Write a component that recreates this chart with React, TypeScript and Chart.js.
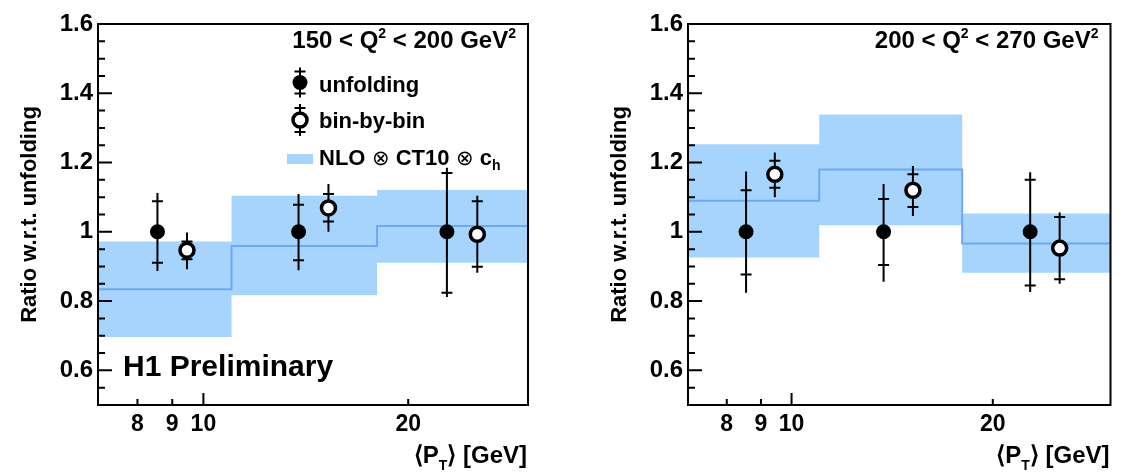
import React, { useEffect, useRef } from 'react';
import { Chart, registerables } from 'chart.js';

Chart.register(...registerables);

const FONT = '"Liberation Sans", Arial, Helvetica, sans-serif';
const BAND_COLOR = '#a6d4fd';
const LINE_COLOR = '#6ea7f6';

// ---- axes ----
const xRange = [7, 30];
const yRange = [0.5, 1.6];
const xTicks = [8, 9, 10, 20];
const yMajorTicks = [0.6, 0.8, 1.0, 1.2, 1.4, 1.6];
const yMinorStep = 0.05;

// ---- NLO ⊗ CT10 ⊗ c_h prediction bins ----
const binEdges = [7, 11, 18, 30];

// ---- Panel 1: 150 < Q^2 < 200 GeV^2 ----
const p1NloCentral = [0.834, 0.959, 1.017];
const p1NloLow = [0.696, 0.817, 0.911];
const p1NloHigh = [0.972, 1.104, 1.121];
const p1UnfX = [8.56, 13.8, 22.8];
const p1UnfY = [1.0, 1.0, 1.0];
const p1UnfStatLow = [0.911, 0.918, 0.824];
const p1UnfStatHigh = [1.088, 1.078, 1.17];
const p1UnfTotLow = [0.887, 0.889, 0.812];
const p1UnfTotHigh = [1.112, 1.109, 1.185];
const p1BbbX = [9.46, 15.27, 25.27];
const p1BbbY = [0.947, 1.069, 0.993];
const p1BbbStatLow = [0.921, 1.03, 0.899];
const p1BbbStatHigh = [0.972, 1.109, 1.088];
const p1BbbTotLow = [0.892, 1.0, 0.882];
const p1BbbTotHigh = [0.998, 1.138, 1.104];

// ---- Panel 2: 200 < Q^2 < 270 GeV^2 ----
const p2NloCentral = [1.09, 1.18, 0.966];
const p2NloLow = [0.926, 1.019, 0.882];
const p2NloHigh = [1.253, 1.339, 1.053];
const p2UnfX = [8.55, 13.73, 22.75];
const p2UnfY = [1.0, 1.0, 1.0];
const p2UnfStatLow = [0.877, 0.904, 0.845];
const p2UnfStatHigh = [1.12, 1.095, 1.15];
const p2UnfTotLow = [0.824, 0.856, 0.826];
const p2UnfTotHigh = [1.174, 1.138, 1.172];
const p2BbbX = [9.44, 15.19, 25.18];
const p2BbbY = [1.166, 1.12, 0.953];
const p2BbbStatLow = [1.127, 1.072, 0.863];
const p2BbbStatHigh = [1.205, 1.166, 1.043];
const p2BbbTotLow = [1.1, 1.046, 0.85];
const p2BbbTotHigh = [1.229, 1.19, 1.056];

const q2Ranges = [
  ['150', '200'],
  ['200', '270'],
];

type Panel = {
  q2: string[];
  nloCentral: number[];
  nloLow: number[];
  nloHigh: number[];
  unfX: number[]; unfY: number[];
  unfStatLow: number[]; unfStatHigh: number[]; unfTotLow: number[]; unfTotHigh: number[];
  bbbX: number[]; bbbY: number[];
  bbbStatLow: number[]; bbbStatHigh: number[]; bbbTotLow: number[]; bbbTotHigh: number[];
  legend: boolean;
  prelim: boolean;
};

const panel1: Panel = {
  q2: q2Ranges[0],
  nloCentral: p1NloCentral, nloLow: p1NloLow, nloHigh: p1NloHigh,
  unfX: p1UnfX, unfY: p1UnfY,
  unfStatLow: p1UnfStatLow, unfStatHigh: p1UnfStatHigh, unfTotLow: p1UnfTotLow, unfTotHigh: p1UnfTotHigh,
  bbbX: p1BbbX, bbbY: p1BbbY,
  bbbStatLow: p1BbbStatLow, bbbStatHigh: p1BbbStatHigh, bbbTotLow: p1BbbTotLow, bbbTotHigh: p1BbbTotHigh,
  legend: true,
  prelim: true,
};

const panel2: Panel = {
  q2: q2Ranges[1],
  nloCentral: p2NloCentral, nloLow: p2NloLow, nloHigh: p2NloHigh,
  unfX: p2UnfX, unfY: p2UnfY,
  unfStatLow: p2UnfStatLow, unfStatHigh: p2UnfStatHigh, unfTotLow: p2UnfTotLow, unfTotHigh: p2UnfTotHigh,
  bbbX: p2BbbX, bbbY: p2BbbY,
  bbbStatLow: p2BbbStatLow, bbbStatHigh: p2BbbStatHigh, bbbTotLow: p2BbbTotLow, bbbTotHigh: p2BbbTotHigh,
  legend: false,
  prelim: false,
};

function stepPoints(vals: number[]) {
  return binEdges.map((x, i) => ({ x, y: vals[Math.min(i, vals.length - 1)] }));
}

type Seg = { t: string; font: string; dy?: number };

function segsWidth(ctx: CanvasRenderingContext2D, segs: Seg[]) {
  let w = 0;
  for (const s of segs) {
    ctx.font = s.font;
    w += ctx.measureText(s.t).width;
  }
  return w;
}

function drawSegs(ctx: CanvasRenderingContext2D, segs: Seg[], x: number, y: number) {
  let cx = x;
  for (const s of segs) {
    ctx.font = s.font;
    ctx.fillText(s.t, cx, y + (s.dy || 0));
    cx += ctx.measureText(s.t).width;
  }
}

const B = (px: number) => `bold ${px}px ${FONT}`;
const N = (px: number) => `${px}px ${FONT}`;

function drawErrorMarker(ctx: CanvasRenderingContext2D, x: number, yTop: number, yBot: number, sTop: number, sBot: number) {
  ctx.beginPath();
  ctx.moveTo(x, yTop);
  ctx.lineTo(x, yBot);
  ctx.moveTo(x - 5.5, sTop);
  ctx.lineTo(x + 5.5, sTop);
  ctx.moveTo(x - 5.5, sBot);
  ctx.lineTo(x + 5.5, sBot);
  ctx.stroke();
}

const errorBarPlugin = {
  id: 'errorBars',
  beforeDatasetDraw(chart: any, args: any) {
    const ds: any = chart.data.datasets[args.index];
    if (!ds.errors) return;
    const { ctx } = chart;
    const x = chart.scales.x;
    const y = chart.scales.y;
    const e = ds.errors;
    ctx.save();
    ctx.strokeStyle = '#000';
    ctx.lineWidth = 2;
    ds.data.forEach((pt: any, i: number) => {
      const px = x.getPixelForValue(pt.x);
      drawErrorMarker(
        ctx,
        px,
        y.getPixelForValue(e.totHigh[i]),
        y.getPixelForValue(e.totLow[i]),
        y.getPixelForValue(e.statHigh[i]),
        y.getPixelForValue(e.statLow[i])
      );
    });
    ctx.restore();
  },
};

const decorPlugin = {
  id: 'decor',
  afterDraw(chart: any, _args: any, opts: any) {
    const { ctx, chartArea } = chart;
    const { left, right, top, bottom } = chartArea;
    const xs = chart.scales.x;
    const ys = chart.scales.y;
    ctx.save();
    ctx.strokeStyle = '#000';
    ctx.fillStyle = '#000';

    // y ticks (inside)
    ctx.lineWidth = 2;
    ctx.beginPath();
    for (const t of ys.ticks) {
      const py = ys.getPixelForValue(t.value);
      const major = yMajorTicks.some((m) => Math.abs(m - t.value) < 1e-6);
      ctx.moveTo(left, py);
      ctx.lineTo(left + (major ? 14 : 7), py);
    }
    // x ticks (inside)
    for (const v of xTicks) {
      const px = xs.getPixelForValue(v);
      const major = Math.abs(Math.log10(v) - Math.round(Math.log10(v))) < 1e-9;
      ctx.moveTo(px, bottom);
      ctx.lineTo(px, bottom - (major ? 12 : 6));
    }
    ctx.stroke();

    // frame
    ctx.lineWidth = 2;
    ctx.strokeRect(left, top, right - left, bottom - top);

    ctx.textAlign = 'left';
    ctx.textBaseline = 'alphabetic';

    // Q2 header
    const q2 = opts.q2 as string[];
    const header: Seg[] = [
      { t: `${q2[0]} < Q`, font: B(24) },
      { t: '2', font: B(14), dy: -10 },
      { t: ` < ${q2[1]} GeV`, font: B(24) },
      { t: '2', font: B(14), dy: -10 },
    ];
    const hw = segsWidth(ctx, header);
    drawSegs(ctx, header, right - 12 - hw, top + 24);

    if (opts.legend) {
      const mx = left + 202;
      const tx = left + 221;
      // unfolding
      ctx.lineWidth = 2;
      const y1 = top + 58.5;
      drawErrorMarker(ctx, mx, y1 - 15, y1 + 15, y1 - 11, y1 + 11);
      ctx.beginPath();
      ctx.arc(mx, y1, 7.5, 0, Math.PI * 2);
      ctx.fill();
      ctx.font = B(22);
      ctx.fillText('unfolding', tx, top + 67.7);
      // bin-by-bin
      const y2 = top + 96;
      drawErrorMarker(ctx, mx, y2 - 16, y2 + 16, y2 - 12, y2 + 12);
      ctx.beginPath();
      ctx.arc(mx, y2, 7, 0, Math.PI * 2);
      ctx.fillStyle = '#fff';
      ctx.fill();
      ctx.lineWidth = 3.5;
      ctx.stroke();
      ctx.fillStyle = '#000';
      ctx.font = B(22);
      ctx.fillText('bin-by-bin', tx, top + 104.3);
      // band
      ctx.fillStyle = BAND_COLOR;
      ctx.fillRect(left + 189, top + 130, 26, 10);
      ctx.fillStyle = '#000';
      const nlo: Seg[] = [
        { t: 'NLO ', font: B(22) },
        { t: '⊗', font: N(21) },
        { t: ' CT10 ', font: B(22) },
        { t: '⊗', font: N(21) },
        { t: ' c', font: B(22) },
        { t: 'h', font: B(14), dy: 5 },
      ];
      drawSegs(ctx, nlo, tx, top + 141);
    }

    if (opts.prelim) {
      ctx.font = B(30);
      ctx.fillText('H1 Preliminary', left + 25, bottom - 29);
    }

    // x title
    const xt: Seg[] = [
      { t: '⟨P', font: B(24) },
      { t: 'T', font: B(14), dy: 7 },
      { t: '⟩ [GeV]', font: B(24) },
    ];
    const xw = segsWidth(ctx, xt);
    drawSegs(ctx, xt, right - 1 - xw, bottom + 58);

    ctx.restore();
  },
};

function buildConfig(panel: Panel, padRight: number): any {
  const datasets: any[] = [
    {
      data: stepPoints(panel.nloLow),
      borderColor: 'rgba(0,0,0,0)',
      borderWidth: 0,
      pointRadius: 0,
      stepped: true,
      fill: false,
      order: 5,
    },
    {
      data: stepPoints(panel.nloHigh),
      borderColor: 'rgba(0,0,0,0)',
      backgroundColor: BAND_COLOR,
      borderWidth: 0,
      pointRadius: 0,
      stepped: true,
      fill: '-1',
      order: 4,
    },
    {
      data: stepPoints(panel.nloCentral),
      borderColor: LINE_COLOR,
      borderWidth: 2,
      pointRadius: 0,
      stepped: true,
      fill: false,
      order: 3,
    },
    {
      data: panel.unfX.map((x, i) => ({ x, y: panel.unfY[i] })),
      showLine: false,
      pointRadius: 7.5,
      pointBackgroundColor: '#000',
      pointBorderWidth: 0,
      order: 2,
      errors: {
        statLow: panel.unfStatLow,
        statHigh: panel.unfStatHigh,
        totLow: panel.unfTotLow,
        totHigh: panel.unfTotHigh,
      },
    },
    {
      data: panel.bbbX.map((x, i) => ({ x, y: panel.bbbY[i] })),
      showLine: false,
      pointRadius: 7,
      pointBackgroundColor: '#fff',
      pointBorderColor: '#000',
      pointBorderWidth: 3.5,
      order: 1,
      errors: {
        statLow: panel.bbbStatLow,
        statHigh: panel.bbbStatHigh,
        totLow: panel.bbbTotLow,
        totHigh: panel.bbbTotHigh,
      },
    },
  ];

  return {
    type: 'line',
    data: { datasets },
    plugins: [errorBarPlugin, decorPlugin],
    options: {
      responsive: false,
      animation: false,
      devicePixelRatio: 1,
      layout: { padding: { top: 24, right: padRight, bottom: 0, left: 0 } },
      plugins: {
        legend: { display: false },
        tooltip: { enabled: false },
        decor: { q2: panel.q2, legend: panel.legend, prelim: panel.prelim },
      },
      scales: {
        x: {
          type: 'logarithmic',
          min: xRange[0],
          max: xRange[1],
          offset: false,
          grid: { display: false, drawTicks: false },
          border: { display: false },
          afterBuildTicks: (scale: any) => {
            scale.ticks = xTicks.map((v) => ({ value: v }));
          },
          afterFit: (scale: any) => {
            scale.height = 68;
          },
          ticks: {
            autoSkip: false,
            maxRotation: 0,
            padding: 6,
            color: '#000',
            font: { family: FONT, size: 23, weight: 'bold' },
            callback: (v: any) => String(v),
          },
        },
        y: {
          type: 'linear',
          min: yRange[0],
          max: yRange[1],
          grid: { display: false, drawTicks: false },
          border: { display: false },
          afterFit: (scale: any) => {
            scale.width = 98;
          },
          ticks: {
            stepSize: yMinorStep,
            autoSkip: false,
            padding: 5,
            color: '#000',
            font: { family: FONT, size: 24, weight: 'bold' },
            callback: (v: any) => {
              const m = yMajorTicks.find((t) => Math.abs(t - v) < 1e-6);
              if (m === undefined) return '';
              return Math.abs(m - 1) < 1e-9 ? '1' : m.toFixed(1);
            },
          },
          title: {
            display: true,
            text: 'Ratio w.r.t. unfolding',
            color: '#000',
            font: { family: FONT, size: 22, weight: 'bold' },
            padding: { top: 17, bottom: 0 },
          },
        },
      },
    },
  };
}

function PanelChart({ panel, left, width, padRight }: { panel: Panel; left: number; width: number; padRight: number }) {
  const ref = useRef<HTMLCanvasElement>(null);
  useEffect(() => {
    const chart = new Chart(ref.current as HTMLCanvasElement, buildConfig(panel, padRight));
    return () => chart.destroy();
  }, [panel, padRight]);
  return (
    <div style={{ position: 'absolute', left, top: 0, width, height: 473 }}>
      <canvas ref={ref} width={width} height={473} style={{ width, height: 473, display: 'block' }} />
    </div>
  );
}

export default function App() {
  return (
    <div
      style={{
        position: 'fixed',
        left: 0,
        top: 0,
        width: 1121,
        height: 473,
        background: '#fff',
        overflow: 'hidden',
      }}
    >
      <PanelChart panel={panel1} left={0} width={560} padRight={32} />
      <PanelChart panel={panel2} left={590} width={531} padRight={2} />
    </div>
  );
}
